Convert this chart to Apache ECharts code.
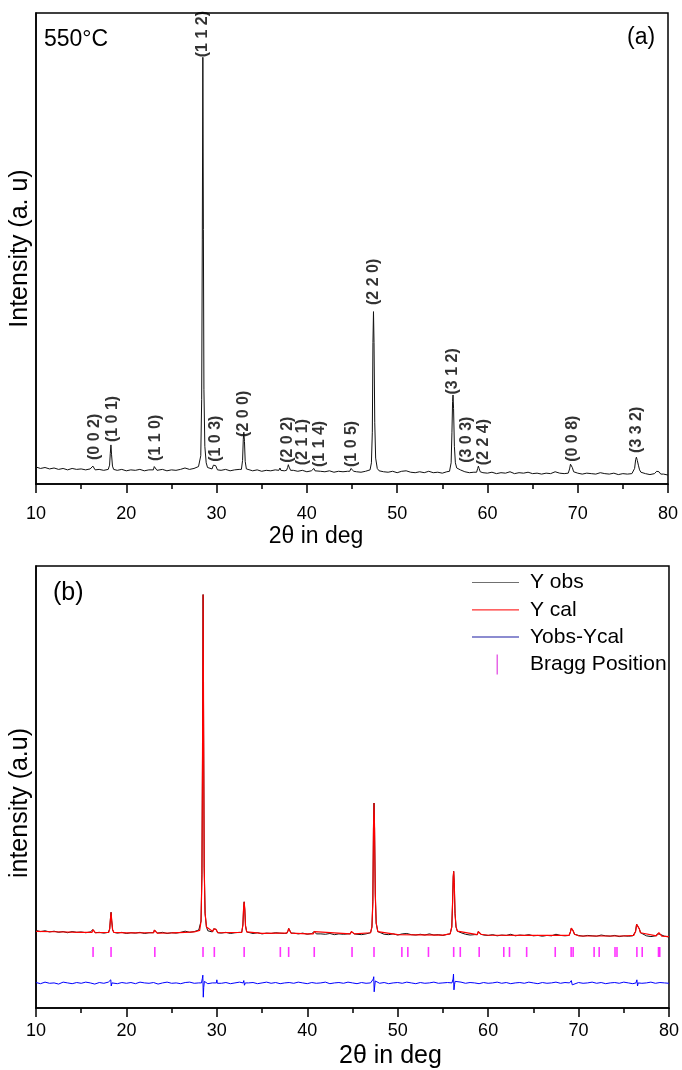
<!DOCTYPE html>
<html><head><meta charset="utf-8">
<script src="https://cdn.jsdelivr.net/npm/echarts@6/dist/echarts.min.js"></script>
<style>html,body{margin:0;padding:0;background:#fff}#c{width:682px;height:1070px}</style>
</head><body><div id="c"></div>
<script>
// ---------- DATA ----------
const xTickLabels = ['10','20','30','40','50','60','70','80'];
// observed background, 2θ = 10, 10.5, ... 80
const bgStart = 10, bgStep = 0.5;
const bgObs = [36,33,35,32,34,31,33,30,33,31, 32,30,32,30,31,29,31,32,29,31,
  28,30,29,31,28,30,29,30,31,28, 30,29,31,34,31,33,37,40,35,32,
  31,29,31,28,30,31,30,30,28,30, 27,29,28,30,29,28,29,29,27,29,
  26,28,27,27,26,28,25,27,26,27, 26,26,25,27,28,30,28,26,25,27,
  24,27,28,25,24,26,24,27,24,25, 23,26,27,40,30,26,24,25,25,24,
  23,25,22,24,23,26,22,24,23,25, 22,23,21,23,22,26,23,22,23,24,
  23,21,23,22,21,24,22,21,23,20, 22,21,22,22,24,22,20,22,21,21, 19];
// peak profiles [2θ, intensity]
const pk002 = [[16.2,31],[16.3,38],[16.36,42],[16.43,35],[16.55,30]];
const pk101 = [[18.05,31],[18.15,40],[18.23,65],[18.3,83],[18.37,62],[18.47,38],[18.6,31]];
const pk110 = [[23.0,30],[23.1,37],[23.17,41],[23.25,35],[23.4,29]];
const pk112 = [[28.1,36],[28.25,60],[28.35,180],[28.42,520],[28.48,906],[28.54,540],[28.6,200],[28.7,80],[28.85,45]];
const pk103 = [[29.55,33],[29.65,40],[29.72,44],[29.8,37],[29.9,39],[29.97,36],[30.1,30]];
const pk200 = [[32.75,31],[32.88,50],[32.96,95],[33.02,110],[33.09,90],[33.17,48],[33.3,32]];
const pk370 = [[36.9,29],[37.02,34],[37.12,29]];
const pk202 = [[37.75,29],[37.87,35],[37.95,41],[38.03,36],[38.2,29]];
const pk114 = [[40.65,27],[40.78,33],[40.9,28]];
const pk105 = [[44.75,27],[44.88,33],[44.96,37],[45.05,32],[45.2,27]];
const pk220 = [[47.0,30],[47.15,45],[47.25,110],[47.32,300],[47.38,366],[47.44,300],[47.52,130],[47.62,55],[47.8,33]];
const pk312 = [[55.8,27],[55.98,45],[56.07,110],[56.14,175],[56.19,189],[56.25,160],[56.34,80],[56.45,45],[56.6,34],[56.8,31]];
const pk224 = [[58.8,25],[58.92,33],[59.0,38],[59.08,33],[59.2,26]];
const pk008 = [[68.95,23],[69.1,32],[69.2,42],[69.3,43],[69.4,35],[69.55,26]];
const pk332 = [[76.1,23],[76.3,33],[76.42,52],[76.5,57],[76.6,50],[76.72,40],[76.85,30],[77.0,25]];
const pk789 = [[78.6,22],[78.75,27],[78.88,30],[79.0,26],[79.2,21]];
const peakList = [pk002,pk101,pk110,pk112,pk103,pk200,pk370,pk202,pk114,pk105,pk220,pk312,pk224,pk008,pk332,pk789];
// calculated (smooth) background
const calBase = [[10,33.5],[12,32.5],[15,31],[20,29.5],[25,29.5],[26.5,31],[27.5,32],[30,30],[35,28.5],[40,27],[45,26],[50,25],[55,24],[60,23.5],[65,23],[70,22],[75,21.5],[80,20]];
// difference curve Yobs-Ycal (offset)
const diffBase = [-99,-102,-98,-101,-100,-103,-98,-100,-102,-99,
 -101,-98,-100,-103,-99,-101,-98,-100,-102,-99,
 -101,-99,-102,-98,-100,-101,-99,-103,-100,-98,
 -101,-100,-102,-99,-98,-101,-100,-99,-102,-100,
 -98,-101,-99,-102,-100,-98,-101,-100,-99,-102,
 -100,-98,-101,-99,-102,-100,-99,-101,-98,-100,
 -102,-99,-101,-100,-98,-102,-100,-99,-101,-98,
 -100,-102,-99,-101,-100,-98,-101,-99,-102,-100,
 -99,-101,-98,-100,-102,-99,-101,-100,-98,-101,
 -100,-99,-102,-100,-98,-101,-99,-100,-102,-99,
 -101,-100,-98,-101,-99,-102,-100,-99,-101,-98,
 -100,-102,-99,-101,-100,-98,-101,-99,-100,-102,
 -99,-101,-100,-98,-101,-99,-102,-100,-99,-101,
 -98,-100,-102,-99,-101,-100,-98,-101,-99,-100,
 -101];
const dSp18 = [[18.2,-100],[18.27,-92],[18.32,-108],[18.4,-100]];
const dSp28 = [[28.3,-100],[28.4,-88],[28.45,-80],[28.5,-137],[28.55,-112],[28.62,-96],[28.75,-100]];
const dSp30 = [[29.95,-100],[30.0,-92],[30.05,-101]];
const dSp33 = [[32.9,-100],[32.98,-94],[33.05,-106],[33.15,-100]];
const dSp47 = [[47.2,-100],[47.3,-90],[47.35,-84],[47.4,-123],[47.46,-108],[47.52,-95],[47.65,-100]];
const dSp56 = [[56.0,-100],[56.12,-90],[56.17,-77],[56.22,-118],[56.28,-105],[56.35,-96],[56.5,-100]];
const dSp69 = [[69.1,-100],[69.2,-94],[69.3,-105],[69.4,-100]];
const dSp76 = [[76.35,-100],[76.45,-92],[76.52,-108],[76.6,-100]];
const diffSpikes = [dSp18,dSp28,dSp30,dSp33,dSp47,dSp56,dSp69,dSp76];
// Bragg positions (2θ)
const braggPos = [16.31,18.30,23.14,28.47,29.72,33.02,37.02,37.94,40.77,44.95,47.38,50.46,51.12,53.40,56.19,56.92,59.01,61.73,62.36,64.26,67.42,69.18,69.40,71.72,72.28,74.03,74.25,76.45,77.04,78.84,78.98];
const braggLevel = -20;
// hkl annotations (top panel)
const hklNames = ['(0 0 2)','(1 0 1)','(1 1 0)','(1 1 2)','(1 0 3)','(2 0 0)','(2 0 2)','(2 1 1)','(1 1 4)','(1 0 5)','(2 2 0)','(3 1 2)','(3 0 3)','(2 2 4)','(0 0 8)','(3 3 2)'];
const hklX = [16.5,18.5,23.3,28.5,29.9,32.96,37.83,39.57,41.45,44.96,47.43,56.18,57.7,59.6,69.44,76.53];
const hklY = [51,89,49,906,47,100,45,40,36,36,380,190,45,40,47,66];
const seriesNames = ['Y obs','Y cal','Yobs-Ycal','Bragg Position'];

// ---------- assembly ----------
function gridPts(vals){ return vals.map((v,i)=>[bgStart+i*bgStep, v]); }
function merge(base, extra){
  let pts = base.filter(p => !extra.some(e => p[0] >= e[0][0] && p[0] <= e[e.length-1][0]));
  extra.forEach(e => pts = pts.concat(e));
  return pts.sort((a,b)=>a[0]-b[0]);
}
const obsData = merge(gridPts(bgObs), peakList);
const calData = merge(calBase, peakList);
const diffData = merge(gridPts(diffBase), diffSpikes);
const braggData = braggPos.map(x => [x, braggLevel]);
const hklData = hklX.map((x,i)=>[x, hklY[i]]);

const FF = 'Arial, "Liberation Sans", sans-serif';
function xAx(gi, labelMargin, nameGap, nameSize, shift){
  return {
    gridIndex: gi, type:'value', min:10, max:80, interval:10,
    axisLine:{show:true, onZero:false, lineStyle:{color:'#000', width:1.5}},
    axisTick:{show:true, inside:false, length:9, lineStyle:{color:'#000', width:1.5}},
    minorTick:{show:true, splitNumber:2, length:5, lineStyle:{color:'#000', width:1.5}},
    splitLine:{show:false},
    axisLabel:{color:'#000', fontSize:18, fontFamily:FF, margin:labelMargin,
      formatter: v => xTickLabels[Math.round((v-10)/10)]},
    name:'2θ in deg', nameLocation:'middle', nameGap:nameGap,
    nameTextStyle:{color:'#000', fontSize:nameSize, fontFamily:FF, padding: shift}
  };
}
function yAx(gi, min, max, name, gap, pad){
  return {
    gridIndex: gi, type:'value', min:min, max:max,
    axisLine:{show:true, lineStyle:{color:'#000', width:1.5}},
    axisTick:{show:false}, axisLabel:{show:false}, splitLine:{show:false},
    name:name, nameLocation:'middle', nameGap:gap,
    nameTextStyle:{color:'#000', fontSize:25, fontFamily:FF, padding:pad}
  };
}
const lineIcon = 'path://M0,0 L0.01,0 L0.01,0.01 Z M0,9.4 L47,9.4 L47,10.6 L0,10.6 Z M53,20 L52.99,20 L52.99,19.99 Z';
const lineIconThick = 'path://M0,0 L0.01,0 L0.01,0.01 Z M0,9 L47,9 L47,11 L0,11 Z M53,20 L52.99,20 L52.99,19.99 Z';
const tickIcon = 'path://M0,0 L0.01,0 L0.01,0.01 Z M24.5,0 L26,0 L26,20 L24.5,20 Z M53,20 L52.99,20 L52.99,19.99 Z';

const chart = echarts.init(document.getElementById('c'), null, {renderer:'canvas'});
chart.setOption({
  backgroundColor:'#fff',
  animation:false,
  grid:[
    {left:36, right:14, top:13, bottom:586, show:true, borderColor:'#000', borderWidth:1.5},
    {left:36, right:10.5, top:566, bottom:62, show:true, borderColor:'#000', borderWidth:1.5}
  ],
  xAxis:[ xAx(0, 21, 41, 23, [0,72,0,0]), xAx(1, 14, 36, 25, [0,0,0,76]) ],
  yAxis:[ yAx(0, 0, 1000, 'Intensity (a. u)', 3, 0), yAx(1, -165, 980, 'intensity (a.u)', 3, [0,32,0,0]) ],
  legend:{
    orient:'vertical', left:472, top:572, padding:0, itemWidth:53, itemHeight:21, itemGap:6.3,
    textStyle:{color:'#000', fontSize:21, fontFamily:FF},
    data:[
      {name:seriesNames[0], icon:lineIcon, itemStyle:{color:'#707070', borderWidth:0}},
      {name:seriesNames[1], icon:lineIcon, itemStyle:{color:'#ff3030', borderWidth:0}},
      {name:seriesNames[2], icon:lineIconThick, itemStyle:{color:'#8c8cd0', borderWidth:0}},
      {name:seriesNames[3], icon:tickIcon, itemStyle:{color:'#e040e0', borderWidth:0}}
    ],
    selectedMode:false
  },
  graphic:[
    {type:'text', left:44, top:28, style:{text:'550°C', fontSize:23, fontFamily:FF, fill:'#000'}},
    {type:'text', left:627, top:26, style:{text:'(a)', fontSize:23, fontFamily:FF, fill:'#000'}},
    {type:'text', left:53, top:581, style:{text:'(b)', fontSize:25, fontFamily:FF, fill:'#000'}}
  ],
  series:[
    {type:'line', name:'pattern', xAxisIndex:0, yAxisIndex:0, data:obsData, showSymbol:false, symbol:'none',
      lineStyle:{color:'#111', width:1}, silent:true},
    {type:'scatter', name:'hkl', xAxisIndex:0, yAxisIndex:0, data:hklData, symbolSize:0, silent:true,
      label:{show:true, position:'inside', rotate:90, align:'left', verticalAlign:'middle',
        formatter:p=>hklNames[p.dataIndex], fontSize:16, fontWeight:'bold', fontFamily:FF, color:'#000'}},
    {type:'line', name:seriesNames[0], xAxisIndex:1, yAxisIndex:1, data:obsData, showSymbol:false, symbol:'none',
      lineStyle:{color:'#111', width:1}, itemStyle:{color:'#111'}, silent:true},
    {type:'line', name:seriesNames[1], xAxisIndex:1, yAxisIndex:1, data:calData, showSymbol:false, symbol:'none',
      lineStyle:{color:'#ff0000', width:1.2}, itemStyle:{color:'#ff0000'}, silent:true},
    {type:'line', name:seriesNames[2], xAxisIndex:1, yAxisIndex:1, data:diffData, showSymbol:false, symbol:'none',
      lineStyle:{color:'#0000ff', width:1}, itemStyle:{color:'#0000ff'}, silent:true},
    {type:'scatter', name:seriesNames[3], xAxisIndex:1, yAxisIndex:1, data:braggData, symbol:'rect', symbolSize:[1.6,10],
      itemStyle:{color:'#ff00ff'}, silent:true}
  ]
});
</script></body></html>
